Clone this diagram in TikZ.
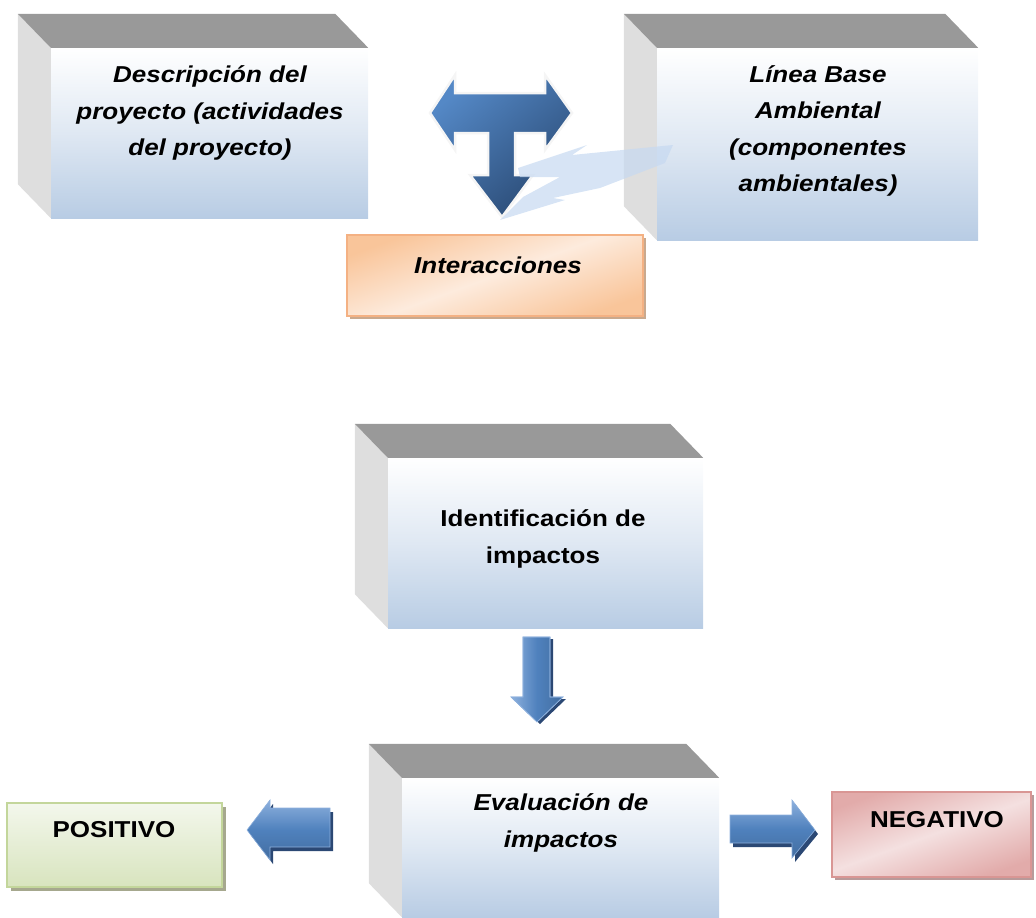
\documentclass[tikz,border=0pt]{standalone}
\usepackage{fontspec}
\setmainfont{Liberation Sans}[FakeStretch=1.13]
\usetikzlibrary{calc,shadows}
\definecolor{topgray}{HTML}{999999}
\definecolor{sidegray}{HTML}{DEDEDE}
\definecolor{boxblue}{HTML}{B8CCE4}
\definecolor{orBorder}{HTML}{F4B183}
\definecolor{orFill}{HTML}{F9C59A}
\definecolor{orLight}{HTML}{FDEBDD}
\definecolor{orShadow}{HTML}{C9A98E}
\definecolor{grBorder}{HTML}{C3D69B}
\definecolor{grTop}{HTML}{F3F7EC}
\definecolor{grBot}{HTML}{D8E4BE}
\definecolor{grShadow}{HTML}{A6A88E}
\definecolor{rdBorder}{HTML}{D99694}
\definecolor{rdDark}{HTML}{E2ABAA}
\definecolor{rdLight}{HTML}{F4E0E0}
\definecolor{rdShadow}{HTML}{B89A9A}
\definecolor{arrMain}{HTML}{4F81BD}
\definecolor{arrLight}{HTML}{8DB0DD}
\definecolor{arrShadow}{HTML}{2B4874}
\definecolor{tLight}{HTML}{5488C6}
\definecolor{tDark}{HTML}{2A4A74}
\definecolor{boltcol}{HTML}{C6D9F1}
\newcommand\mkcube[1]{%
  \fill[sidegray] (#1.north west) -- ++(-33,-34) -- ($(#1.south west)+(-33,-34)$) -- (#1.south west) -- cycle;
  \fill[topgray] (#1.north west) -- ++(-33,-34) -- ($(#1.north east)+(-33,-34)$) -- (#1.north east) -- cycle;}
\begin{document}
\begin{tikzpicture}[x=1pt,y=-1pt,
  txt/.style={font=\fontsize{23}{36.5}\selectfont\bfseries, align=center, inner sep=0pt},
  itxt/.style={font=\fontsize{23}{36.5}\selectfont\bfseries\itshape, align=center, inner sep=0pt},
  front/.style={draw=none, inner sep=0pt, top color=white, bottom color=boxblue, middle color=white!55!boxblue},
  flatbox/.style={inner sep=0pt, line width=1.2pt},
  smallarr/.style={draw=arrLight, line width=0.6pt, line join=miter},
  arrshade/.style={fill=arrShadow}
]
\useasboundingbox (0,0) rectangle (1036,918);

% 3D boxes
\node[front, minimum width=317pt, minimum height=170pt] (desc) at (209.5,133) {};
\mkcube{desc}
\node[front, minimum width=321pt, minimum height=192pt] (lb) at (817.5,144) {};
\mkcube{lb}
\node[front, minimum width=315pt, minimum height=170pt] (ident) at (545.5,543) {};
\mkcube{ident}
\node[front, minimum width=317pt, minimum height=139pt] (eval) at (560.5,847.5) {};
\mkcube{eval}

% flat boxes
\node[flatbox, draw=orBorder, top color=orFill, bottom color=orFill, middle color=orLight, shading angle=20,
      minimum width=296pt, minimum height=81pt,
      drop shadow={shadow xshift=3pt, shadow yshift=-3pt, fill=orShadow, opacity=1}] (inter) at (495,275.5) {};
\node[flatbox, draw=grBorder, top color=grTop, bottom color=grBot,
      minimum width=215pt, minimum height=84pt,
      drop shadow={shadow xshift=4pt, shadow yshift=-4pt, fill=grShadow, opacity=1}] (pos) at (114.5,845) {};
\node[flatbox, draw=rdBorder, top color=rdDark, bottom color=rdDark, middle color=rdLight, shading angle=20,
      minimum width=199pt, minimum height=85pt,
      drop shadow={shadow xshift=3pt, shadow yshift=-3pt, fill=rdShadow, opacity=1}] (neg) at (931.5,834.5) {};

% texts
\node[itxt] (tdesc) at (210,113) {Descripción del\\proyecto (actividades\\del proyecto)};
\node[itxt] (tlb) at (818,131) {Línea Base\\Ambiental\\(componentes\\ambientales)};
\node[txt] (tident) at (543,539) {Identificación de\\impactos};
\node[itxt] (teval) at (561,823) {Evaluación de\\impactos};
\node[itxt] (tinter) at (498,265) {Interacciones};
\node[txt] (tpos) at (114,830) {POSITIVO};
\node[txt] (tneg) at (937,820) {NEGATIVO};

% T-shaped arrow
\shadedraw[top color=tLight, bottom color=tDark, shading angle=40, draw=white!92!gray, line width=2.5pt, line join=miter]
  (430,113) -- (455,75) -- (455,93) -- (545,93) -- (545,75) -- (572,113) -- (545,150) -- (545,133)
  -- (515,133) -- (515,175) -- (533,175) -- (502,217) -- (470,175) -- (488,175) -- (488,133)
  -- (455,133) -- (455,150) -- cycle;

% lightning bolt
\fill[boltcol, opacity=0.7]
  (500,220) -- (565,200) -- (553,198) -- (600,188) -- (665,163) -- (673,145) -- (572,155)
  -- (587,145) -- (518,168) -- (520,177) -- (560,177) -- (523,197) -- cycle;

% down arrow
\fill[arrshade] (526,639) -- (553,639) -- (553,699) -- (566,699) -- (540,724) -- (514,699) -- (526,699) -- cycle;
\shade[smallarr, left color=arrLight, right color=arrMain!85!black, middle color=arrMain]
  (523,637) -- (550,637) -- (550,697) -- (563,697) -- (537,722) -- (511,697) -- (523,697) -- cycle;
\draw[smallarr] (523,637) -- (550,637) -- (550,697) -- (563,697) -- (537,722) -- (511,697) -- (523,697) -- cycle;

% left arrow
\fill[arrshade] (250,834) -- (273,804) -- (273,812) -- (333,812) -- (333,851) -- (273,851) -- (273,864) -- cycle;
\shade[top color=arrLight, bottom color=arrMain!85!black, middle color=arrMain]
  (247,830) -- (270,800) -- (270,808) -- (330,808) -- (330,847) -- (270,847) -- (270,860) -- cycle;
\draw[smallarr] (247,830) -- (270,800) -- (270,808) -- (330,808) -- (330,847) -- (270,847) -- (270,860) -- cycle;

% right arrow
\fill[arrshade] (733,819) -- (795,819) -- (795,804) -- (818,834) -- (795,862) -- (795,847) -- (733,847) -- cycle;
\shade[top color=arrLight, bottom color=arrMain!85!black, middle color=arrMain]
  (730,815) -- (792,815) -- (792,800) -- (815,830) -- (792,858) -- (792,843) -- (730,843) -- cycle;
\draw[smallarr] (730,815) -- (792,815) -- (792,800) -- (815,830) -- (792,858) -- (792,843) -- (730,843) -- cycle;
\end{tikzpicture}
\end{document}
